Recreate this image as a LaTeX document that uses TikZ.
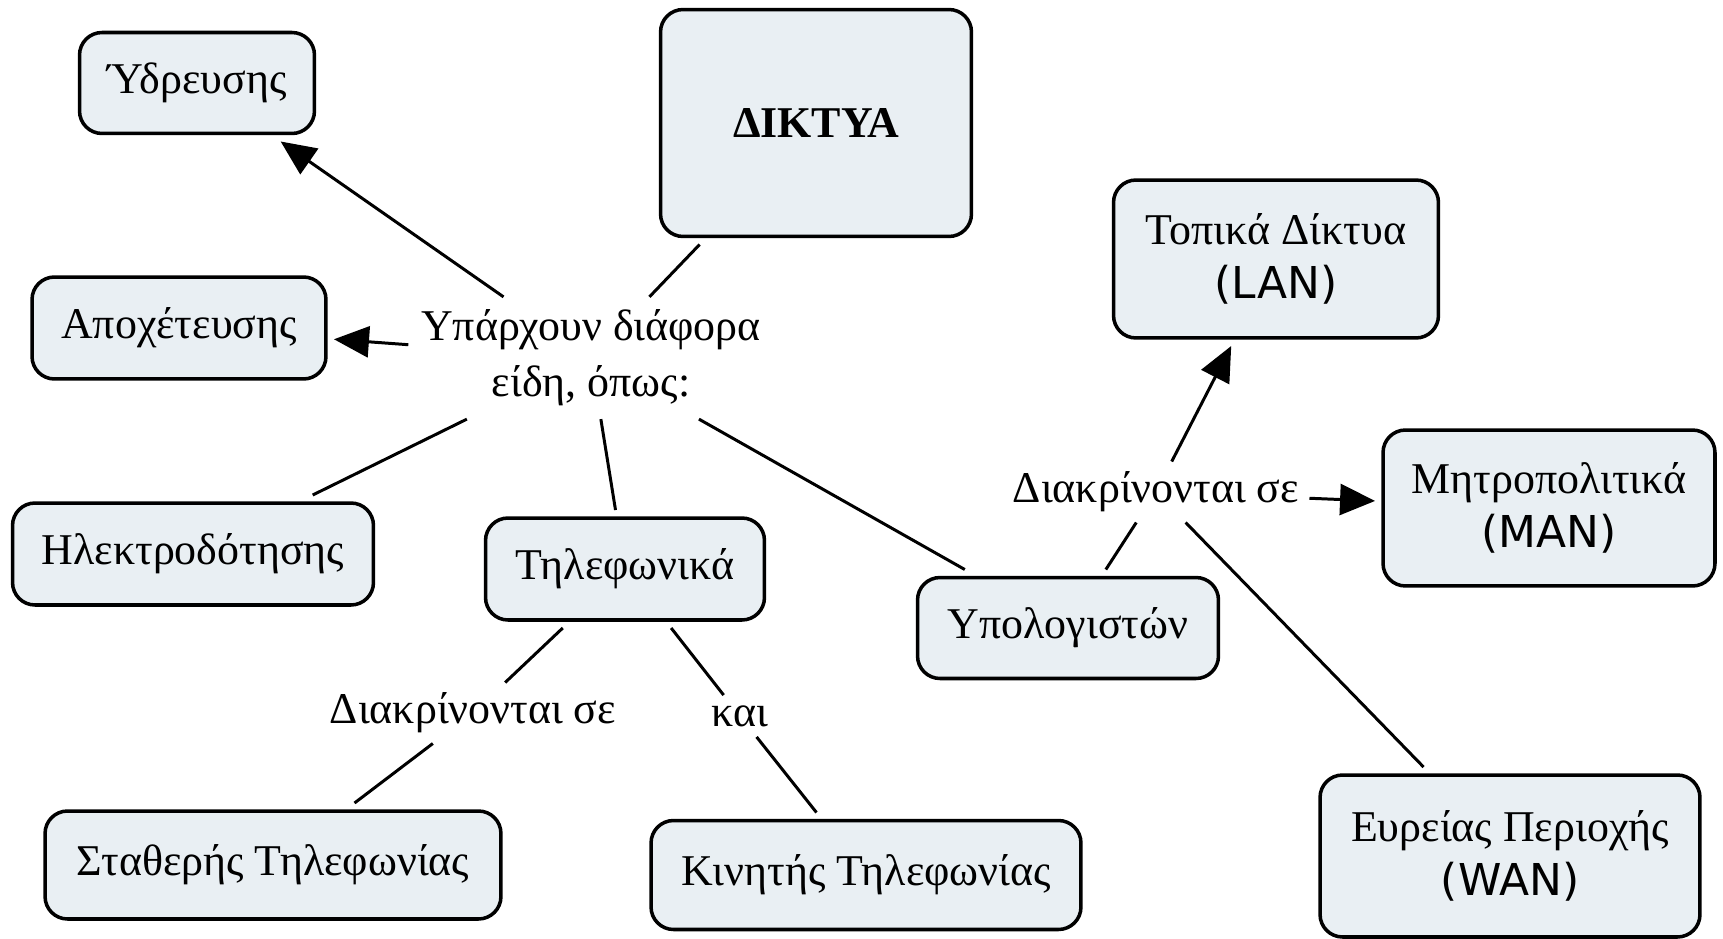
\documentclass[tikz,border=0pt]{standalone}
\usepackage{fontspec}
\setmainfont{Liberation Serif}
\newfontfamily\latinsans{DejaVu Sans}
\usetikzlibrary{arrows.meta}
\definecolor{boxfill}{RGB}{233,239,243}
\tikzstyle{concept} = [rectangle, rounded corners=0.45cm, draw=black,
line width=2pt, fill=boxfill, text centered, align=center, outer sep=0.16cm,
font=\fontsize{25}{31}\selectfont]
\tikzstyle{phrase} = [inner sep=0.2cm, align=center,
font=\fontsize{25}{32}\selectfont]
\tikzstyle{plainline} = [line width=1.7pt]
\tikzstyle{arrowline} =
[line width=1.7pt, -{Triangle[length=0.7cm,width=0.62cm]}]

\begin{document}
\begin{tikzpicture}[x=0.02cm, y=-0.02cm]
\useasboundingbox (0,0) rectangle (1723,939);

\node(diktya)[concept, minimum width=6.22cm, minimum height=4.54cm] at (816,123){\textbf{ΔΙΚΤΥΑ}};
\node(ydreysi)[concept, minimum width=4.7cm, minimum height=2.02cm] at (197,83){Ύδρευσης};
\node(apoxet)[concept, minimum width=5.88cm, minimum height=2.04cm] at (179,328){Αποχέτευσης};
\node(ilektr)[concept, minimum width=7.22cm, minimum height=2.04cm] at (193,554){Ηλεκτροδότησης};
\node(tilef)[concept, minimum width=5.58cm, minimum height=2.04cm] at (625,569){Τηλεφωνικά};
\node(ypolog)[concept, minimum width=6.02cm, minimum height=2.02cm] at (1068,628){Υπολογιστών};
\node(lan)[concept, minimum width=6.5cm, minimum height=3.16cm] at (1276,259){Τοπικά Δίκτυα\\{\latinsans (LAN)}};
\node(man)[concept, minimum width=6.64cm, minimum height=3.12cm] at (1549,508){Μητροπολιτικά\\{\latinsans (MAN)}};
\node(wan)[concept, minimum width=7.6cm, minimum height=3.24cm] at (1510,856){Ευρείας Περιοχής\\{\latinsans (WAN)}};
\node(statheri)[concept, minimum width=9.12cm, minimum height=2.16cm] at (273,865){Σταθερής Τηλεφωνίας};
\node(kiniti)[concept, minimum width=8.6cm, minimum height=2.18cm] at (866,875){Κινητής Τηλεφωνίας};

\node(eidi)[phrase, inner sep=0.25cm] at (591,358){Υπάρχουν διάφορα\\είδη, όπως:};
\node(diakrR)[phrase] at (1156,492){Διακρίνονται σε};
\node(diakrB)[phrase] at (473,713){Διακρίνονται σε};
\node(kai)[phrase] at (740,716){και};

\draw[plainline](diktya) -- (eidi);
\draw[arrowline](eidi) -- (ydreysi);
\draw[arrowline](eidi) -- (apoxet);
\draw[plainline](eidi) -- (ilektr);
\draw[plainline](eidi) -- (tilef);
\draw[plainline](eidi) -- (ypolog);

\draw[plainline](ypolog) -- (diakrR);
\draw[arrowline](diakrR) -- (lan);
\draw[arrowline](diakrR) -- (man);
\draw[plainline](diakrR) -- (wan);

\draw[plainline](tilef) -- (diakrB);
\draw[plainline](diakrB) -- (statheri);
\draw[plainline](tilef) -- (kai);
\draw[plainline](kai) -- (kiniti);

\end{tikzpicture}
\end{document}
